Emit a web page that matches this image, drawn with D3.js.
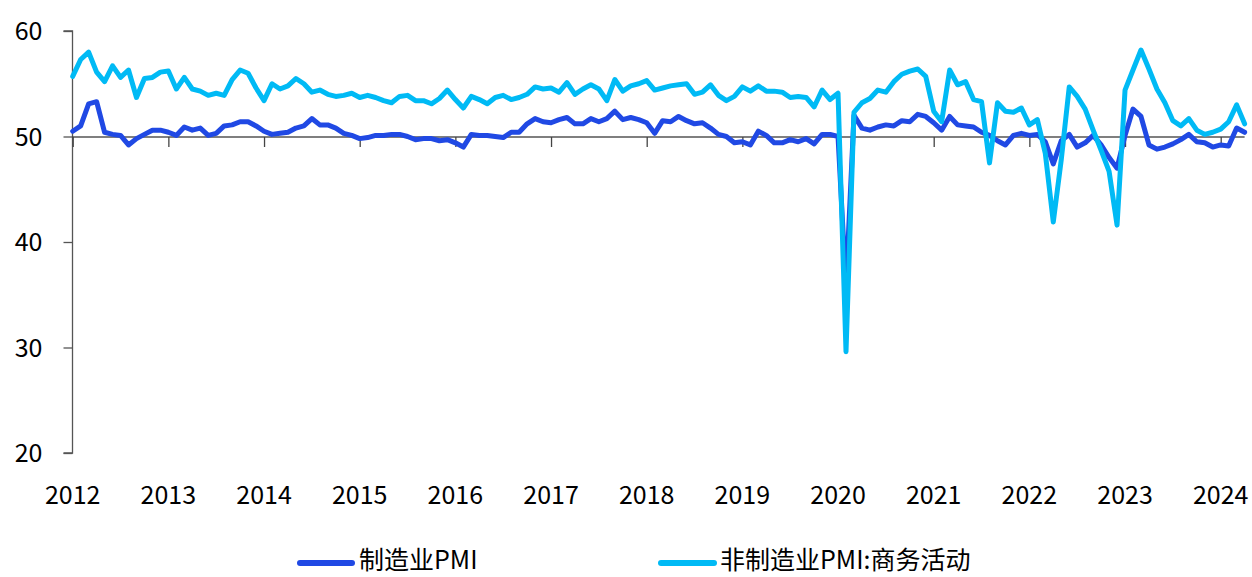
<!DOCTYPE html>
<html><head><meta charset="utf-8">
<script src="https://cdn.jsdelivr.net/npm/d3@7"></script>
<style>
html,body{margin:0;padding:0;background:#fff;overflow:hidden}
svg{display:block}
text{font-family:"Noto Sans CJK SC","Noto Sans",sans-serif;fill:#000}
</style></head><body>
<svg id="c" width="1252" height="577"></svg>
<script>
const startYear = 2012;
const yearLabels = ["2012","2013","2014","2015","2016","2017","2018","2019","2020","2021","2022","2023","2024"];
const yTicks = [20,30,40,50,60];
const seriesNames = ["制造业PMI","非制造业PMI:商务活动"];
// monthly, Jan 2012 – Apr 2024
const manufacturing = [
 50.5,51.0,53.1,53.3,50.4,50.2,50.1,49.2,49.8,50.2,50.6,50.6,
 50.4,50.1,50.9,50.6,50.8,50.1,50.3,51.0,51.1,51.4,51.4,51.0,
 50.5,50.2,50.3,50.4,50.8,51.0,51.7,51.1,51.1,50.8,50.3,50.1,
 49.8,49.9,50.1,50.1,50.2,50.2,50.0,49.7,49.8,49.8,49.6,49.7,
 49.4,49.0,50.2,50.1,50.1,50.0,49.9,50.4,50.4,51.2,51.7,51.4,
 51.3,51.6,51.8,51.2,51.2,51.7,51.4,51.7,52.4,51.6,51.8,51.6,
 51.3,50.3,51.5,51.4,51.9,51.5,51.2,51.3,50.8,50.2,50.0,49.4,
 49.5,49.2,50.5,50.1,49.4,49.4,49.7,49.5,49.8,49.3,50.2,50.2,
 50.0,35.7,52.0,50.8,50.6,50.9,51.1,51.0,51.5,51.4,52.1,51.9,
 51.3,50.6,51.9,51.1,51.0,50.9,50.4,50.1,49.6,49.2,50.1,50.3,
 50.1,50.2,49.5,47.4,49.6,50.2,49.0,49.4,50.1,49.2,48.0,47.0,
 50.1,52.6,51.9,49.2,48.8,49.0,49.3,49.7,50.2,49.5,49.4,49.0,
 49.2,49.1,50.8,50.4
];
const nonManufacturing = [
 55.7,57.3,58.0,56.1,55.2,56.7,55.6,56.3,53.7,55.5,55.6,56.1,
 56.2,54.5,55.6,54.5,54.3,53.9,54.1,53.9,55.4,56.3,56.0,54.6,
 53.4,55.0,54.5,54.8,55.5,55.0,54.2,54.4,54.0,53.8,53.9,54.1,
 53.7,53.9,53.7,53.4,53.2,53.8,53.9,53.4,53.4,53.1,53.6,54.4,
 53.5,52.7,53.8,53.5,53.1,53.7,53.9,53.5,53.7,54.0,54.7,54.5,
 54.6,54.2,55.1,54.0,54.5,54.9,54.5,53.4,55.4,54.3,54.8,55.0,
 55.3,54.4,54.6,54.8,54.9,55.0,54.0,54.2,54.9,53.9,53.4,53.8,
 54.7,54.3,54.8,54.3,54.3,54.2,53.7,53.8,53.7,52.8,54.4,53.5,
 54.1,29.6,52.3,53.2,53.6,54.4,54.2,55.2,55.9,56.2,56.4,55.7,
 52.4,51.4,56.3,54.9,55.2,53.5,53.3,47.5,53.2,52.4,52.3,52.7,
 51.1,51.6,48.4,41.9,47.8,54.7,53.8,52.6,50.6,48.7,46.7,41.6,
 54.4,56.3,58.2,56.4,54.5,53.2,51.5,51.0,51.7,50.6,50.2,50.4,
 50.7,51.4,53.0,51.2
];
const colors = ["#2049e4","#00baf5"];

const svg = d3.select("#c");
const x = d3.scaleLinear().domain([0, 144]).range([72.7, 1220.7]);
const y = d3.scaleLinear().domain([20, 60]).range([453, 31]);

// y axis
const yAxis = svg.append("g").attr("transform","translate(72.5,0)")
  .call(d3.axisLeft(y).tickValues(yTicks).tickSize(9).tickPadding(21).tickFormat(d3.format("d")));
yAxis.select(".domain").attr("stroke","#555").attr("stroke-width",1.3).attr("d","M-9,"+y(60)+"H0V"+y(20)+"H-9");
yAxis.selectAll(".tick line").attr("stroke","#555").attr("stroke-width",1.3);
yAxis.selectAll(".tick text").attr("font-size",25).attr("fill","#000").attr("dy","0.35em");

// x axis at 50
const xAxis = svg.append("g").attr("transform","translate(0,"+(y(50)+0.5)+")")
  .call(d3.axisBottom(x).tickValues(yearLabels.map((d,i)=>i*12)).tickSize(10).tickFormat(""));
xAxis.select(".domain").attr("stroke","#000").attr("stroke-width",1.2).attr("d","M"+x(0)+",0H"+x(manufacturing.length-1));
xAxis.selectAll(".tick line").attr("stroke","#444").attr("stroke-width",1.3);

// year labels
svg.append("g").selectAll("text").data(yearLabels).join("text")
  .attr("x",(d,i)=>x(i*12)).attr("y",495).attr("dy","0.35em")
  .attr("text-anchor","middle").attr("font-size",25).text(d=>d);

// lines
const line = d3.line().x((d,i)=>x(i)).y(d=>y(d));
[manufacturing, nonManufacturing].forEach((s,k)=>{
  svg.append("path").datum(s).attr("d",line).attr("fill","none")
    .attr("stroke",colors[k]).attr("stroke-width",5).attr("stroke-linejoin","round").attr("stroke-linecap","round");
});

// legend
const leg = [{x0:300,x1:352,tx:359},{x0:661,x1:714,tx:720}];
leg.forEach((l,k)=>{
  svg.append("line").attr("x1",l.x0).attr("x2",l.x1).attr("y1",563).attr("y2",563)
    .attr("stroke",colors[k]).attr("stroke-width",6).attr("stroke-linecap","round");
  svg.append("text").attr("x",l.tx).attr("y",569).attr("font-size",25).text(seriesNames[k]);
});
</script></body></html>
